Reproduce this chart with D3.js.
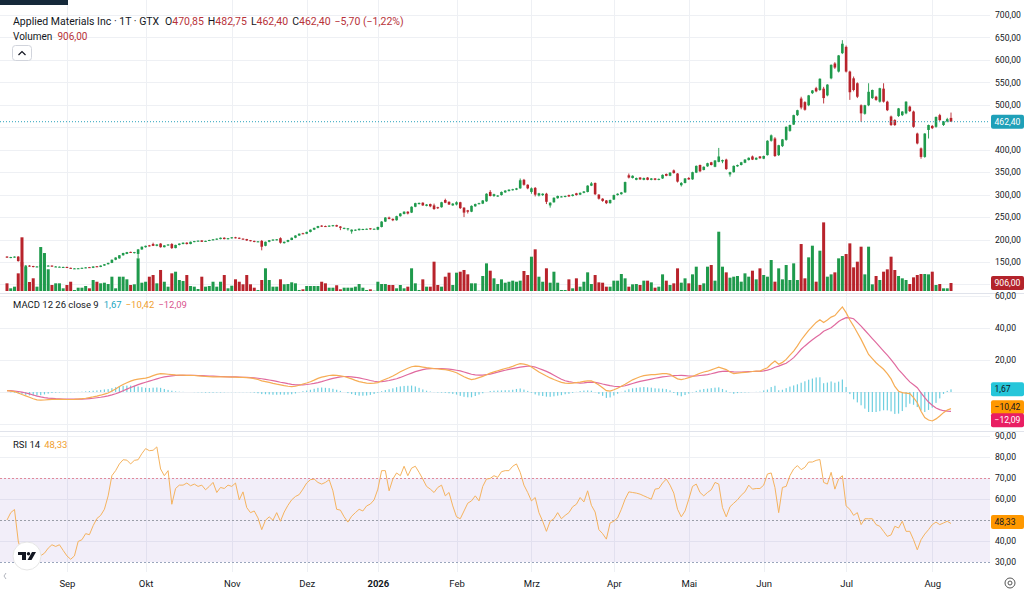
<!DOCTYPE html>
<html>
<head>
<meta charset="utf-8">
<script src="https://cdn.jsdelivr.net/npm/d3@7"></script>
<style>
html, body { margin: 0; padding: 0; background: #fff; }
svg { display: block; font-family: Roboto, "Liberation Sans", sans-serif; }
</style>
</head>
<body>
<svg id="chart" width="1024" height="593"></svg>
<script>
// daily candles [open, high, low, close]
var ohlc = [
[162,163,159,160],[159,161.5,158.5,161],[160,162.5,159.5,162],[162,163,151,152],[150,151,137,140],[139,143,138,142],[142,143,139.5,140],[141,141.5,138,139],[139,141,138.5,140],[139,144,138,143],
[141,144,140.5,143],[141,143,140,142],[142,142.5,139,140],[139,141,138.5,140],[139,140,138,139.5],[138,139.5,137,139],[139,139.5,136.5,137],[137,137.5,135,135.5],[135,136.5,134.5,135.8],[135,136.5,134.5,136],
[136,137.5,135.5,137],[136.5,138.5,136,138],[138.5,139,137,137.5],[137,140.5,136.5,140],[140.5,141,138.5,139],[139,142.5,138.5,142],[142,145.5,141.5,145],[145,148.5,144.5,148],[148,155.5,147.5,155],[155,160.5,154,160],
[158,165.5,157.5,165],[165,170.5,164,170],[168,172.5,167.5,172],[172.5,173,170,170.5],[170,172.5,169,172],[168,179,158,178],[178,184.5,177,184],[183,186.5,182,186],[187,188,184.5,185],[190,193,185.5,186],
[186,189.5,185,189],[191,192,182,183],[183,187.5,182.5,187],[187,189.5,186,189],[190,192,179,181],[181,188.5,180.5,188],[188,191.5,187,191],[190,193.5,189.5,193],[193,194,189,190],[190,195.5,189.5,195],
[195,197,194,196.5],[196,198,195.5,197.5],[198,198.5,194.5,195],[195,197.5,194.5,197],[197,199.5,196.5,199],[199,201,198,200.5],[200,202.5,199,202],[201,204.5,200.5,204],[204,205,200.5,201],[201,203.5,200,203],
[203,205.5,202,205],[205,206,202.5,203],[204,204.5,201,202],[202,202.5,200,200.5],[201,201.5,197,198],[198.5,199,196,197],[197,197.5,194,195],[195,196.5,194,196],[197,199,176,184],[186,195.5,185,195],
[195,199,194,198.5],[198,200.5,197,200],[199,201,198,200.5],[203,205,191,193],[192,195.5,191,195],[195,199.5,194,199],[199,204.5,198.5,204],[204,209.5,203,209],[209,213.5,208,213],[214,215,212,213],
[213,217.5,212,217],[217,222.5,216,222],[222,226.5,221,226],[226,230.5,225,230],[231,232,228,229],[230,231,228,229],[229,231.5,228,231],[230,232.5,229,232],[232,233,228.5,229],[229,230,221,226],
[224,226.5,223,226],[224,225.5,220,225],[218,222.5,213,222],[220,222.5,219,222],[221,224.5,220,224],[222,224,221,223.5],[223,224.5,222,224],[225,225.5,222,223],[223,224.5,222.5,224],[222,228.5,221,228],
[228,241,227,240],[240,250,239,249],[249,251,245,246],[246,247,241,243],[243,253,242,252],[252,259,251,258],[257,263,256,262],[262,263,256,258],[260,274,259,273],[273,282,272,281],
[279,282.5,278,281.5],[282,283,275,276],[275,279,274,278],[279,280,272,274],[276,280,266,268],[272,273,268,270],[272,284,271,283],[288,291,281,282],[284,285,277,278],[276,281,275,280],
[278,285,276,283],[283,284,268,270],[271,272,250,260],[265,266,258,262],[262,276,261,275],[274,280,273,279],[279,282,278,281],[280,288,279,287],[285,303,284,302],[306,310,296,297],
[297,302,295,301],[296,299,295,298],[299,307,298,306],[305,310,304,309],[308,312,307,311],[310,313,309,312],[311,315,310,314],[314,336,313,332],[333,335,320,322],[322,323,312,314],
[306,316,302,314],[315,317,296,300],[298,304,296,303],[299,303,297,302],[302,304,279,284],[276,283,271,282],[283,294,282,293],[292,298,291,297],[295,297,294,296],[295,298,294,297],
[299,300,295,296],[297,301,296,300],[303,304,298,299],[300,305,299,304],[304,308,303,307],[306,321,305,320],[320,328,319,325],[326,327,299,301],[300,301,289,291],[291,292,284,286],
[287,288,279,281],[281,289,280,288],[289,300,288,299],[299,303,298,302],[301,306,300,305],[305,329,304,328],[343,347,336,338],[337,343,336,342],[333,338,332,337],[338,339,333,334],
[333,338,332,337],[338,339,332,333],[333,337,332,336],[336,337,332,333],[333,336,332,335],[336,345,335,344],[346,347,341,342],[342,350,341,349],[354,356,347,348],[347,348,327,329],
[321,328,318,326],[326,337,325,336],[337,339,333,334],[334,351,333,350],[349,365,348,364],[366,367,350,352],[355,363,354,362],[363,371,362,370],[372,373,365,366],[362,377,361,376],
[373,404,372,385],[374,378,370,377],[378,380,355,357],[345,351,340,350],[350,365,349,364],[363,367,362,366],[366,373,365,372],[371,379,370,378],[377,383,376,382],[385,387,377,378],
[378,383,377,382],[385,386,380,381],[380,387,379,386],[388,421,387,420],[420,434,418,432],[425,428,384,386],[388,411,386,410],[408,424,406,423],[422,452,420,451],[442,456,440,455],
[456,478,455,477],[477,489,475,488],[514,518,490,494],[506,508,487,489],[499,522,497,521],[526,533,524,532],[537,540,528,530],[533,559,531,558],[536,540,503,515],[521,546,519,545],
[559,590,557,589],[592,595,580,583],[574,611,572,610],[615,644,613,636],[629,632,572,574],[574,576,511,528],[559,563,530,533],[548,550,515,518],[499,501,462,481],[480,500,478,499],
[499,548,497,529],[515,534,513,533],[518,520,509,511],[507,538,505,537],[536,548,505,507],[507,509,486,488],[474,476,453,455],[466,468,453,455],[475,493,473,492],[477,486,475,485],
[481,508,479,507],[496,498,484,486],[485,487,449,451],[436,438,412,414],[403,405,380,384],[384,437,382,436],[444,456,425,455],[453,455,446,448],[451,474,449,473],[477,480,464,466],
[455,464,453,463],[463,471,461,468.1],[470.85,482.75,462.4,462.4]
];

var volume = [
870,305,490,2000,6080,2720,1020,1440,490,4980,
4300,2460,680,870,870,305,680,1050,115,375,
375,565,305,1245,1050,870,940,790,1620,305,
1620,1620,1325,680,760,3700,940,1050,1620,1810,
870,2380,1050,490,2000,2185,1245,1130,1810,565,
490,225,1620,490,565,1050,490,1050,1810,305,
600,1325,1050,760,1810,760,375,115,1245,2570,
1245,490,490,1325,760,790,985,870,115,190,
565,565,565,565,1050,870,375,375,650,190,
375,375,375,490,790,375,115,190,40,1050,
790,790,680,680,305,680,305,490,2570,870,
115,1320,490,490,3320,680,490,1620,2075,680,
2075,2185,2380,1890,870,870,40,1700,3130,2300,
1435,790,1320,940,1050,1170,1050,1170,2265,1810,
3885,4720,1620,1050,2570,940,2185,940,115,115,
1320,305,1435,490,1050,2115,790,1810,980,940,
490,490,1170,1170,1925,1435,490,755,790,680,
1170,1170,980,377,490,1886,1170,680,868,2565,
943,1434,868,1886,2754,680,868,2754,2943,1170,
6716,2754,2113,1509,1622,1698,1056,2000,1622,2301,
1320,2565,1811,1622,3509,1056,2565,1320,2943,1245,
3132,1245,5320,1434,3811,5131,1056,4565,7772,1622,
1886,2113,3698,3962,4188,5395,2679,3320,5018,1886,
5018,755,1698,1245,2188,2452,3886,2377,1698,1434,
1245,792,1547,1811,1924,1924,1886,2188,680,792,
302,302,906
];

var macdLine = [
0.9,0.6,0.2,-0.6,-1.6,-2.4,-3.3,-4.2,-4.9,-5.1,
-5.0,-4.8,-4.6,-4.6,-4.6,-4.6,-4.7,-4.7,-4.6,-4.4,
-4.2,-3.9,-3.5,-3.1,-2.6,-2.0,-1.3,-0.6,0.6,1.9,
3.4,4.7,5.8,6.8,7.6,8.0,8.4,8.7,9.3,10.2,
11.0,11.5,11.3,11.1,10.9,10.7,10.6,10.5,10.4,10.4,
10.3,10.1,9.9,9.7,9.6,9.5,9.5,9.4,9.4,9.4,
9.3,9.3,9.2,9.1,9.0,8.8,8.4,7.8,7.0,6.5,
6.0,5.4,4.9,4.5,4.0,3.6,3.4,3.6,4.2,5.0,
5.6,6.4,7.4,8.5,9.3,9.8,10.3,10.5,10.4,10.1,
9.7,9.0,8.2,7.3,6.5,6.0,5.6,5.4,5.5,5.9,
7.0,8.0,8.9,10.0,11.3,12.6,13.8,14.8,15.8,16.2,
16.0,15.6,15.2,14.9,14.6,14.4,14.2,14.0,13.5,12.8,
12.0,10.8,9.5,8.5,7.8,8.2,9.0,9.8,10.8,11.8,
12.6,13.3,14.0,14.7,15.2,16.0,17.0,17.7,17.4,16.9,
15.6,14.1,12.5,11.3,10.0,8.8,7.8,6.9,6.0,5.6,
5.4,5.6,5.9,6.2,6.6,7.0,7.0,5.8,4.4,2.6,
0.8,0.6,1.4,2.3,3.6,4.8,6.3,7.6,8.6,9.5,
10.2,10.5,10.8,10.9,11.2,11.5,11.5,11.0,9.6,8.2,
7.7,8.3,9.0,9.7,10.7,11.7,12.5,13.0,13.8,14.7,
15.5,14.8,14.0,12.5,11.5,11.8,12.1,12.3,12.5,12.8,
13.0,13.1,14.2,15.2,17.5,19.4,17.3,18.5,20.4,23.0,
25.6,28.8,32.5,35.5,38.5,41.0,43.5,45.2,43.5,45.0,
46.8,47.8,50.5,53.2,49.6,45.0,41.2,37.0,32.9,28.2,
23.5,20.9,18.3,16.2,14.2,11.5,8.2,3.5,0.5,-0.4,
-0.7,-1.0,-3.5,-6.7,-12.0,-16.0,-17.5,-18.1,-16.8,-15.0,
-12.9,-11.3,-10.42
];

var signalLine = [
0.9,0.8,0.6,0.3,-0.1,-0.6,-1.2,-1.9,-2.6,-3.1,
-3.5,-3.8,-4.0,-4.2,-4.3,-4.4,-4.5,-4.5,-4.5,-4.5,
-4.4,-4.3,-4.1,-3.9,-3.6,-3.3,-2.9,-2.4,-1.8,-1.1,
-0.2,0.8,1.8,2.8,3.7,4.6,5.4,6.1,6.8,7.5,
8.2,8.9,9.4,9.8,10.1,10.3,10.4,10.4,10.4,10.4,
10.4,10.3,10.2,10.1,10.0,9.9,9.8,9.7,9.6,9.5,
9.4,9.4,9.3,9.2,9.1,9.0,8.8,8.6,8.3,7.9,
7.5,7.1,6.6,6.1,5.7,5.2,4.8,4.5,4.4,4.5,
4.7,5.0,5.4,5.9,6.5,7.2,7.9,8.5,9.0,9.4,
9.7,9.7,9.5,9.2,8.8,8.3,7.8,7.2,6.7,6.4,
6.5,6.8,7.2,7.7,8.3,9.1,10.0,10.9,11.8,12.7,
13.4,14.0,14.4,14.6,14.7,14.7,14.6,14.5,14.3,14.0,
13.6,13.2,12.5,11.8,11.1,10.7,10.6,10.6,10.8,11.2,
11.8,12.4,13.0,13.6,14.1,14.6,15.1,15.5,15.9,16.2,
16.1,15.6,14.7,13.8,12.9,11.8,10.5,9.2,8.0,7.0,
6.5,6.1,5.8,5.6,5.7,6.0,6.2,6.0,5.6,5.0,
4.5,4.0,3.6,3.4,3.5,3.9,4.6,5.3,6.0,6.6,
7.1,7.6,8.1,8.6,9.0,9.4,9.7,10.0,10.2,10.3,
10.4,10.2,10.0,9.9,10.0,10.3,10.6,10.9,11.4,12.0,
12.6,12.9,13.0,12.8,12.6,12.5,12.5,12.6,12.7,12.8,
12.9,12.9,13.2,13.7,14.4,15.5,16.2,17.1,18.0,19.6,
21.5,24.0,26.7,28.8,30.8,32.6,34.4,36.0,38.0,39.1,
40.2,42.0,44.0,45.4,46.5,46.3,45.8,43.5,41.2,38.6,
36.0,33.4,30.8,28.2,25.6,23.0,20.3,17.2,14.0,11.5,
8.8,6.3,4.5,2.7,-0.5,-3.5,-6.3,-8.3,-10.0,-11.0,
-11.7,-12.0,-12.09
];

var macdHist = [
0.0,-0.2,-0.4,-0.9,-1.5,-1.8,-2.1,-2.3,-2.3,-2.0,
-1.5,-1.0,-0.6,-0.4,-0.3,-0.2,-0.2,-0.2,-0.1,0.1,
0.2,0.4,0.6,0.8,1.0,1.3,1.6,1.8,2.4,3.0,
3.6,3.9,4.0,4.0,3.9,3.4,3.0,2.6,2.5,2.7,
2.8,2.6,1.9,1.3,0.8,0.4,0.2,0.1,0.0,0.0,
-0.1,-0.2,-0.3,-0.4,-0.4,-0.4,-0.3,-0.3,-0.2,-0.1,
-0.1,-0.1,-0.1,-0.1,-0.1,-0.2,-0.4,-0.8,-1.3,-1.4,
-1.5,-1.7,-1.7,-1.6,-1.7,-1.6,-1.4,-0.9,-0.2,0.5,
0.9,1.4,2.0,2.6,2.8,2.6,2.4,2.0,1.4,0.7,
0.0,-0.7,-1.3,-1.9,-2.3,-2.3,-2.2,-1.8,-1.2,-0.5,
0.5,1.2,1.7,2.3,3.0,3.5,3.8,3.9,4.0,3.5,
2.6,1.6,0.8,0.3,-0.1,-0.3,-0.4,-0.5,-0.8,-1.2,
-1.6,-2.4,-3.0,-3.3,-3.3,-2.5,-1.6,-0.8,0.0,0.6,
0.8,0.9,1.0,1.1,1.1,1.4,1.9,2.2,1.5,0.7,
-0.5,-1.5,-2.2,-2.5,-2.9,-3.0,-2.7,-2.3,-2.0,-1.4,
-1.1,-0.5,0.1,0.6,0.9,1.0,0.8,-0.2,-1.2,-2.4,
-3.7,-3.4,-2.2,-1.1,0.1,0.9,1.7,2.3,2.6,2.9,
3.1,2.9,2.7,2.3,2.2,2.1,1.8,1.0,-0.6,-2.1,
-2.7,-1.9,-1.0,-0.2,0.7,1.4,1.9,2.1,2.4,2.7,
2.9,1.9,1.0,-0.3,-1.1,-0.7,-0.4,-0.3,-0.2,0.0,
0.1,0.2,1.0,1.5,3.1,3.9,1.1,1.4,2.4,3.4,
4.1,4.8,5.8,6.7,7.7,8.4,9.1,9.2,5.5,5.9,
6.6,5.8,6.5,7.8,3.1,-1.3,-4.6,-6.5,-8.3,-10.4,
-12.5,-12.5,-12.5,-12.0,-11.4,-11.5,-12.1,-13.7,-13.5,-11.9,
-9.5,-7.3,-8.0,-9.4,-11.5,-12.5,-11.2,-9.8,-6.8,-4.0,
-1.2,0.7,1.67
];

var rsiValues = [
50,53.5,55,40,33,34,33,32,31.8,33,
34.2,36.6,38.2,37.4,38.2,35.5,32.9,31.3,32.9,39.8,
40.6,43.5,43,47.3,50.7,52.2,55.1,61.5,71.1,73.5,
76.7,78.7,78.5,76.7,78.4,78.7,81.6,84,83,83.2,
84.8,74.3,71.1,73.5,57.5,65,66.6,66.6,67.6,66.3,
67.1,66,66.6,64.4,66,67.9,63.1,65.5,65,66.6,
66,67.6,59.6,63.4,55.9,53.5,54.3,51,45.4,49.9,
51.5,49.9,53.5,49.4,53.8,57,59.6,61.2,62.1,64.7,
67.6,69.2,69.5,67.9,67.1,67.9,69.2,63.9,55.1,54.7,
51.5,49,51.8,53.5,55.1,54.3,56.7,57.6,59.6,64.7,
73.5,73.5,63.9,69.5,72.4,71.1,75.6,71.1,74.7,75.6,
72.7,69.5,66,64.7,63.1,65.5,66.6,61.5,63.1,56.7,
51.5,50.6,54.3,58,59.1,61.5,59.1,66,69.5,69.8,
71.1,70.3,73,73.5,73.5,75.6,76.7,72.7,66.6,63.1,
59.1,60.7,53.5,49.4,44.6,49.4,50.6,53.5,50.6,52.2,
53.5,56.3,57.5,60.7,58.6,63.9,57,53.8,45.4,43.5,
40.9,48.6,49.4,51,55.1,59.9,63.4,63.1,62.8,62.3,
61.5,60.7,59.9,64.7,65,67.6,69.5,66.6,62.8,55.1,
51.5,54.3,59.9,66,67.1,63.1,61.5,63.1,64.4,67.9,
67.1,55.9,51.5,56.3,58,59.6,61.8,63.4,66.6,64.7,
65,65,66.6,71.9,72.4,65.5,53.5,65.5,66,71.1,
74.3,75.9,74,75.1,77.6,77.6,78.4,78.8,67.9,67.1,
72.7,64.7,69.5,71.1,56.7,55.1,52.2,53.5,47.8,50.6,
50.6,50.6,47.8,47,44.6,42.2,42.9,47,46.2,49.4,
44.6,44.6,40.6,35.8,40.6,43.3,45.4,47.8,49,47.8,
48.6,49.4,48.33
];

var monthLabels = ["Sep", "Okt", "Nov", "Dez", "2026", "Feb", "Mrz", "Apr", "Mai", "Jun", "Jul", "Aug"];
var monthIndex = [16, 37, 60, 80, 99, 120, 140, 162, 182, 202, 224, 247];
// labels hidden under the value tags are left out (450 and 50)
var priceTicks = [700, 650, 600, 550, 500, 400, 350, 300, 250, 200, 150];
var priceGrid = [700, 650, 600, 550, 500, 450, 400, 350, 300, 250, 200, 150, 100];
var macdTicks = [60, 40, 20];
var macdGrid = [60, 40, 20, 0, -20];
var rsiTicks = [90, 80, 70, 60, 40, 30];
var rsiGrid = [90, 80, 60, 40];

var upColor = "#1f9a4c", downColor = "#b8232b";
var gridColor = "#eef0f4", textColor = "#131722";
var plotRight = 990;

var de = d3.formatLocale({decimal: ",", thousands: ".", grouping: [3], currency: ["", ""], minus: "\u2212"});
var f2 = de.format(".2f");

var x = d3.scaleLinear().domain([0, ohlc.length - 1]).range([7, 951]);
var yPrice = d3.scaleLinear().domain([150, 700]).range([262, 15]);
var yVol = d3.scaleLinear().domain([0, 906]).range([291, 283]);
var yMacd = d3.scaleLinear().domain([-20, 60]).range([424, 296]);
var yRsi = d3.scaleLinear().domain([30, 90]).range([562, 436]);

var svg = d3.select("#chart");
var defs = svg.append("defs");
defs.append("clipPath").attr("id", "clipMain").append("rect").attr("x", 0).attr("y", 0).attr("width", plotRight).attr("height", 292);
defs.append("clipPath").attr("id", "clipMacd").append("rect").attr("x", 0).attr("y", 294).attr("width", plotRight).attr("height", 137);
defs.append("clipPath").attr("id", "clipRsi").append("rect").attr("x", 0).attr("y", 432).attr("width", plotRight).attr("height", 138);

function isUp(d) { return d[3] >= d[0]; }

// grid
var grid = svg.append("g");
grid.selectAll(".vgrid").data(monthIndex).enter().append("line")
	.attr("x1", function(d) { return Math.round(x(d)) + 0.5; })
	.attr("x2", function(d) { return Math.round(x(d)) + 0.5; })
	.attr("y1", 0).attr("y2", 572)
	.attr("stroke", gridColor);
grid.selectAll(".pgrid").data(priceGrid).enter().append("line")
	.attr("x1", 0).attr("x2", plotRight)
	.attr("y1", function(d) { return Math.round(yPrice(d)) + 0.5; })
	.attr("y2", function(d) { return Math.round(yPrice(d)) + 0.5; })
	.attr("stroke", gridColor);
grid.selectAll(".mgrid").data(macdGrid).enter().append("line")
	.attr("x1", 0).attr("x2", plotRight)
	.attr("y1", function(d) { return Math.round(yMacd(d)) + 0.5; })
	.attr("y2", function(d) { return Math.round(yMacd(d)) + 0.5; })
	.attr("stroke", gridColor);

// RSI band
svg.append("rect")
	.attr("x", 0).attr("width", plotRight)
	.attr("y", yRsi(70)).attr("height", yRsi(30) - yRsi(70))
	.attr("fill", "#7e57c2").attr("fill-opacity", 0.1);
grid.selectAll(".rgrid").data(rsiGrid).enter().append("line")
	.attr("x1", 0).attr("x2", plotRight)
	.attr("y1", function(d) { return Math.round(yRsi(d)) + 0.5; })
	.attr("y2", function(d) { return Math.round(yRsi(d)) + 0.5; })
	.attr("stroke", gridColor);
var rsiBands = [[70, "#e08a9a"], [50, "#9a9ea8"], [30, "#9aa6bd"]];
svg.selectAll(".rband").data(rsiBands).enter().append("line")
	.attr("x1", 0).attr("x2", plotRight)
	.attr("y1", function(d) { return Math.round(yRsi(d[0])) + 0.5; })
	.attr("y2", function(d) { return Math.round(yRsi(d[0])) + 0.5; })
	.attr("stroke", function(d) { return d[1]; })
	.attr("stroke-dasharray", "2,2");

// pane separators
svg.append("line").attr("x1", 0).attr("x2", 1024).attr("y1", 293.5).attr("y2", 293.5).attr("stroke", "#e0e3eb");
svg.append("line").attr("x1", 0).attr("x2", 1024).attr("y1", 431.5).attr("y2", 431.5).attr("stroke", "#e0e3eb");

// volume + candles
var main = svg.append("g").attr("clip-path", "url(#clipMain)");
main.selectAll(".vol").data(volume).enter().append("rect")
	.attr("x", function(d, i) { return x(i) - 1.5; })
	.attr("width", 3)
	.attr("y", function(d) { return yVol(d); })
	.attr("height", function(d) { return yVol(0) - yVol(d); })
	.attr("fill", function(d, i) { return isUp(ohlc[i]) ? upColor : downColor; });

var candles = main.selectAll(".candle").data(ohlc).enter().append("g");
candles.append("line")
	.attr("x1", function(d, i) { return x(i); })
	.attr("x2", function(d, i) { return x(i); })
	.attr("y1", function(d) { return yPrice(d[1]); })
	.attr("y2", function(d) { return yPrice(d[2]); })
	.attr("stroke", function(d) { return isUp(d) ? upColor : downColor; })
	.attr("stroke-width", 0.9);
candles.append("rect")
	.attr("x", function(d, i) { return x(i) - 1.3; })
	.attr("width", 2.6)
	.attr("y", function(d) { return yPrice(Math.max(d[0], d[3])); })
	.attr("height", function(d) { return Math.max(1, Math.abs(yPrice(d[0]) - yPrice(d[3]))); })
	.attr("fill", function(d) { return isUp(d) ? upColor : downColor; });

var last = ohlc[ohlc.length - 1];
var prevClose = ohlc[ohlc.length - 2][3];
main.append("line")
	.attr("x1", 0).attr("x2", plotRight)
	.attr("y1", yPrice(last[3])).attr("y2", yPrice(last[3]))
	.attr("stroke", "#2aa3bb").attr("stroke-dasharray", "1,2");

// MACD pane
var macdG = svg.append("g").attr("clip-path", "url(#clipMacd)");
macdG.selectAll(".hist").data(macdHist).enter().append("rect")
	.attr("x", function(d, i) { return x(i) - 0.6; })
	.attr("width", 1.2)
	.attr("y", function(d) { return Math.min(yMacd(d), yMacd(0)); })
	.attr("height", function(d) { return Math.abs(yMacd(d) - yMacd(0)); })
	.attr("fill", "#6fcfe0");
var macdPath = d3.line().x(function(d, i) { return x(i); }).y(function(d) { return yMacd(d); });
macdG.append("path").datum(signalLine).attr("d", macdPath)
	.attr("fill", "none").attr("stroke", "#e06a9f").attr("stroke-width", 1.2);
macdG.append("path").datum(macdLine).attr("d", macdPath)
	.attr("fill", "none").attr("stroke", "#f6ad55").attr("stroke-width", 1.2);

// RSI pane
var rsiG = svg.append("g").attr("clip-path", "url(#clipRsi)");
rsiG.append("path").datum(rsiValues)
	.attr("d", d3.line().x(function(d, i) { return x(i); }).y(function(d) { return yRsi(d); }))
	.attr("fill", "none").attr("stroke", "#f5b35f").attr("stroke-width", 1);

// right axes
function rightAxis(scale, ticks) {
	var g = svg.append("g").attr("transform", "translate(" + plotRight + ",0)")
		.call(d3.axisRight(scale).tickValues(ticks).tickSize(0).tickPadding(5).tickFormat(f2));
	g.select(".domain").remove();
	g.selectAll("text").attr("fill", textColor).attr("font-size", 8.6).attr("font-family", "Roboto, sans-serif");
}
rightAxis(yPrice, priceTicks);
rightAxis(yMacd, macdTicks);
rightAxis(yRsi, rsiTicks);

// bottom axis
var xAxis = svg.append("g").attr("transform", "translate(0,580)")
	.call(d3.axisBottom(x).tickValues(monthIndex).tickSize(0).tickPadding(0)
		.tickFormat(function(d, i) { return monthLabels[i]; }));
xAxis.select(".domain").remove();
xAxis.selectAll("text")
	.attr("fill", textColor).attr("font-size", 9.5).attr("font-family", "Roboto, sans-serif")
	.attr("font-weight", function(d, i) { return /^\d{4}$/.test(monthLabels[i]) ? "bold" : "normal"; });

// value tags on the right scale
function tag(y, txt, fill, color) {
	var g = svg.append("g").attr("transform", "translate(991," + y + ")");
	g.append("rect").attr("x", 0).attr("y", -7).attr("width", 33).attr("height", 14).attr("rx", 2).attr("fill", fill);
	g.append("text").attr("x", 3.5).attr("dy", "0.35em").attr("fill", color).attr("font-size", 8.6).text(txt);
}
tag(yPrice(last[3]), f2(last[3]), "#1fa0b8", "#fff");
tag(yVol(volume[volume.length - 1]), f2(volume[volume.length - 1]), "#b3232b", "#fff");
var mLast = macdLine[macdLine.length - 1], sLast = signalLine[signalLine.length - 1], hLast = macdHist[macdHist.length - 1];
tag(yMacd(hLast), f2(hLast), "#26c6da", textColor);
var yM = yMacd(mLast) - 1.5;
tag(yM, f2(mLast), "#ff9800", textColor);
tag(Math.max(yMacd(sLast), yM + 13), f2(sLast), "#e91e63", "#fff");
var rLast = rsiValues[rsiValues.length - 1];
tag(yRsi(rLast) - 1.5, f2(rLast), "#ff9800", textColor);

// legends
var chg = last[3] - prevClose;
var red = "#b73239";
var head = svg.append("text").attr("x", 13).attr("y", 25).attr("font-size", 10.5).attr("fill", textColor);
head.append("tspan").text("Applied Materials Inc \u00b7 1T \u00b7 GTX");
[["O", last[0]], ["H", last[1]], ["L", last[2]], ["C", last[3]]].forEach(function(p, k) {
	head.append("tspan").attr("dx", k === 0 ? 6 : 4).text(p[0]);
	head.append("tspan").attr("fill", red).text(f2(p[1]));
});
head.append("tspan").attr("dx", 4).attr("fill", red)
	.text(f2(chg) + " (" + f2(chg / prevClose * 100) + "%)");

var volLegend = svg.append("text").attr("x", 13).attr("y", 40).attr("font-size", 10).attr("fill", textColor);
volLegend.append("tspan").text("Volumen");
volLegend.append("tspan").attr("dx", 5).attr("fill", red).text(f2(volume[volume.length - 1]));

var macdLegend = svg.append("text").attr("x", 13).attr("y", 308).attr("font-size", 9.5).attr("fill", textColor);
macdLegend.append("tspan").text("MACD 12 26 close 9");
macdLegend.append("tspan").attr("dx", 5).attr("fill", "#22a7bf").text(f2(hLast));
macdLegend.append("tspan").attr("dx", 4).attr("fill", "#f0a030").text(f2(mLast));
macdLegend.append("tspan").attr("dx", 4).attr("fill", "#d9558f").text(f2(sLast));

var rsiLegend = svg.append("text").attr("x", 13).attr("y", 448).attr("font-size", 9.5).attr("fill", textColor);
rsiLegend.append("tspan").text("RSI 14");
rsiLegend.append("tspan").attr("dx", 4).attr("fill", "#f0a030").text(f2(rLast));

// collapse button
svg.append("rect").attr("x", 12.5).attr("y", 45.5).attr("width", 19).attr("height", 15).attr("rx", 3)
	.attr("fill", "#fff").attr("stroke", "#d1d4dc");
svg.append("path").attr("d", "M18.5,55 L22,51.5 L25.5,55").attr("fill", "none").attr("stroke", "#131722").attr("stroke-width", 1.2);

// top toolbar fragment
svg.append("rect").attr("x", 0).attr("y", 0).attr("width", 68).attr("height", 5).attr("fill", "#15293a");

// logo
var logo = svg.append("g").attr("transform", "translate(27,556)");
logo.append("circle").attr("r", 14).attr("fill", "#fff").attr("stroke", "#e6e6e6");
logo.append("path").attr("d", "M-9,-4 h8 v8 h-4 v-5 h-4 z").attr("fill", "#131722");
logo.append("circle").attr("cx", 1.5).attr("cy", -2.3).attr("r", 1.7).attr("fill", "#131722");
logo.append("path").attr("d", "M5,-4 h4 l-4.5,8 h-4 z").attr("fill", "#131722");

// scroll hint and settings icon
svg.append("path").attr("d", "M6,573 L4,576 L6,579").attr("fill", "none").attr("stroke", "#b2b5be").attr("stroke-width", 1);
svg.append("circle").attr("cx", 1010).attr("cy", 583).attr("r", 5).attr("fill", "none").attr("stroke", "#555").attr("stroke-width", 1);
svg.append("circle").attr("cx", 1010).attr("cy", 583).attr("r", 2).attr("fill", "none").attr("stroke", "#555").attr("stroke-width", 1);
</script>
</body>
</html>
